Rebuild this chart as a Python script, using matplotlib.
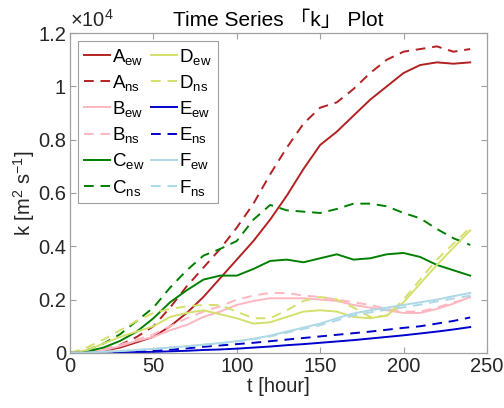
import matplotlib
matplotlib.use("Agg")
import matplotlib.pyplot as plt
from matplotlib.ticker import FuncFormatter

plt.rcParams['font.family'] = ['Liberation Sans', 'Noto Sans CJK JP', 'DejaVu Sans']
plt.rcParams['mathtext.fontset'] = 'custom'
plt.rcParams['mathtext.rm'] = 'Liberation Sans'
plt.rcParams['mathtext.it'] = 'Liberation Sans'

# time axis [hour]
t = [0, 10, 20, 30, 40, 50, 60, 70, 80, 90, 100, 110, 120,
     130, 140, 150, 160, 170, 180, 190, 200, 210, 220, 230, 240]

# k values in units of 1e4 m^2 s^-1
A_ew = [0, 0.002, 0.008, 0.02, 0.04, 0.06, 0.1, 0.15, 0.21, 0.28, 0.35, 0.42, 0.5,
        0.59, 0.69, 0.78, 0.83, 0.89, 0.95, 1.0, 1.05, 1.08, 1.09, 1.085, 1.09]
A_ns = [0, 0.003, 0.012, 0.03, 0.06, 0.1, 0.17, 0.25, 0.32, 0.39, 0.47, 0.56, 0.67,
        0.77, 0.86, 0.92, 0.94, 0.99, 1.05, 1.1, 1.13, 1.14, 1.15, 1.13, 1.14]
B_ew = [0, 0.003, 0.01, 0.025, 0.045, 0.06, 0.085, 0.105, 0.135, 0.155, 0.18, 0.195, 0.205,
        0.205, 0.205, 0.2, 0.195, 0.18, 0.17, 0.16, 0.15, 0.15, 0.165, 0.185, 0.21]
B_ns = [0, 0.004, 0.015, 0.03, 0.05, 0.07, 0.1, 0.13, 0.155, 0.175, 0.2, 0.215, 0.225,
        0.225, 0.215, 0.21, 0.2, 0.19, 0.18, 0.165, 0.155, 0.155, 0.17, 0.19, 0.205]
C_ew = [0, 0.005, 0.02, 0.045, 0.08, 0.13, 0.19, 0.235, 0.275, 0.29, 0.29, 0.315, 0.345,
        0.35, 0.34, 0.355, 0.37, 0.35, 0.355, 0.37, 0.375, 0.36, 0.33, 0.31, 0.29]
C_ns = [0, 0.01, 0.035, 0.07, 0.12, 0.17, 0.245, 0.31, 0.365, 0.39, 0.42, 0.5, 0.555,
        0.535, 0.53, 0.525, 0.54, 0.56, 0.56, 0.55, 0.525, 0.505, 0.465, 0.43, 0.405]
D_ew = [0, 0.01, 0.035, 0.06, 0.08, 0.1, 0.135, 0.15, 0.16, 0.145, 0.13, 0.11, 0.115,
        0.135, 0.155, 0.16, 0.155, 0.135, 0.13, 0.14, 0.19, 0.26, 0.33, 0.395, 0.46]
D_ns = [0, 0.02, 0.05, 0.085, 0.12, 0.15, 0.165, 0.175, 0.18, 0.18, 0.155, 0.13, 0.13,
        0.16, 0.195, 0.21, 0.2, 0.17, 0.135, 0.14, 0.2, 0.275, 0.35, 0.41, 0.47]
E_ew = [0, 0.0003, 0.001, 0.002, 0.003, 0.004, 0.006, 0.008, 0.011, 0.013, 0.016, 0.02, 0.024,
        0.029, 0.033, 0.038, 0.043, 0.048, 0.054, 0.06, 0.066, 0.073, 0.08, 0.088, 0.097]
E_ns = [0, 0.0005, 0.002, 0.003, 0.005, 0.008, 0.012, 0.017, 0.023, 0.028, 0.033, 0.038, 0.044,
        0.05, 0.056, 0.062, 0.068, 0.074, 0.08, 0.087, 0.094, 0.1, 0.11, 0.12, 0.133]
F_ew = [0, 0.001, 0.004, 0.007, 0.011, 0.015, 0.02, 0.025, 0.031, 0.037, 0.044, 0.053, 0.065,
        0.08, 0.095, 0.11, 0.13, 0.148, 0.16, 0.17, 0.18, 0.19, 0.2, 0.213, 0.225]
F_ns = [0, 0.001, 0.004, 0.007, 0.011, 0.015, 0.02, 0.025, 0.03, 0.036, 0.043, 0.051, 0.062,
        0.076, 0.09, 0.104, 0.122, 0.14, 0.152, 0.162, 0.171, 0.181, 0.193, 0.204, 0.215]

series = [("A", A_ew, A_ns, "#b22222"),
          ("B", B_ew, B_ns, "#ffb6c1"),
          ("C", C_ew, C_ns, "#008000"),
          ("D", D_ew, D_ns, "#d4e06b"),
          ("E", E_ew, E_ns, "#0000cd"),
          ("F", F_ew, F_ns, "#add8e6")]

fs = 14.5

fig = plt.figure(figsize=(5.04, 4.08), dpi=100)
ax = fig.add_axes([0.139, 0.135, 0.827, 0.784])

lw = 1.4
for name, ew, ns, col in series:
    ax.plot(t, ew, color=col, lw=lw, label=name + r"$_{\mathrm{ew}}$")
    ax.plot(t, ns, color=col, lw=lw, dashes=(5, 3.5), label=name + r"$_{\mathrm{ns}}$")

ax.set_xlim(0, 250)
ax.set_ylim(0, 1.2)
ax.set_xticks([0, 50, 100, 150, 200, 250])
ax.set_yticks([0, 0.2, 0.4, 0.6, 0.8, 1.0, 1.2])
ax.yaxis.set_major_formatter(FuncFormatter(lambda v, _: f"{v:g}"))
ax.tick_params(direction="in", top=True, right=True, length=4, width=0.8,
               color="#a0a0a0", labelcolor="#262626", labelsize=fs, pad=3)
for sp in ax.spines.values():
    sp.set_color("#a0a0a0")
    sp.set_linewidth(0.9)

ax.text(0.0, 1.008, r"$\times10^{4}$", transform=ax.transAxes, ha="left", va="bottom",
        fontsize=fs, color="#262626")
ax.set_title("Time Series 「k」 Plot", fontsize=fs + 0.5, pad=5)
ax.set_xlabel("t [hour]", fontsize=fs, color="#262626", labelpad=1)
ax.set_ylabel(r"k [m$^{2}$ s$^{-1}$]", fontsize=fs, color="#262626", labelpad=1)

leg = ax.legend(ncol=2, loc="upper left", bbox_to_anchor=(0.02, 0.975), borderaxespad=0,
                fontsize=13.5, handlelength=1.4, handletextpad=0.1, columnspacing=0.35,
                labelspacing=0.33, borderpad=0.3, fancybox=False, framealpha=1,
                edgecolor="#a0a0a0")
leg.get_frame().set_linewidth(0.8)

fig.savefig("out.png", dpi=100)
